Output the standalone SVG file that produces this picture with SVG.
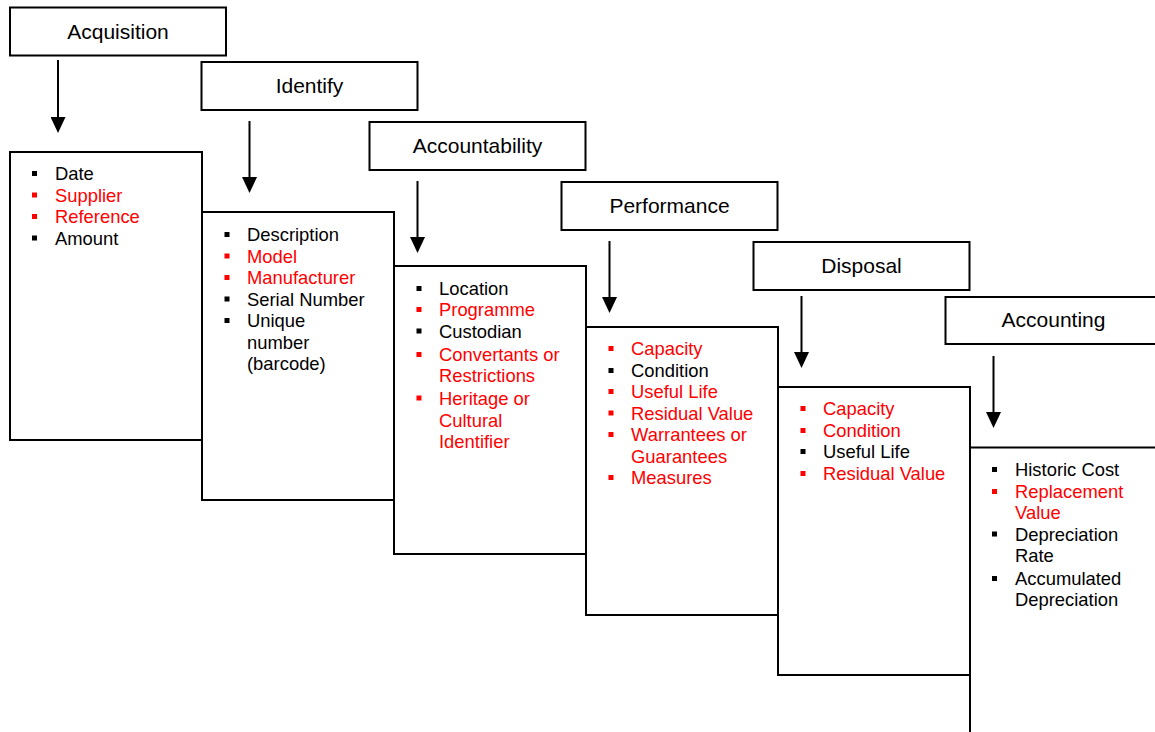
<svg xmlns="http://www.w3.org/2000/svg" width="1155" height="732" viewBox="0 0 1155 732">
<style>
.box{fill:#fff;stroke:#000;stroke-width:2}
.hd{font-family:"Liberation Sans",Arial,sans-serif;font-size:21px;fill:#000;text-anchor:middle}
.t{font-family:"Liberation Sans",Arial,sans-serif;font-size:18.4px;fill:#000}
.r{fill:#ff0000}
.b{fill:#000}
.br{fill:#ff0000}
.arr{stroke:#000;stroke-width:2;fill:none;marker-end:url(#ah)}
</style>
<defs>
<marker id="ah" markerUnits="userSpaceOnUse" markerWidth="16" markerHeight="15" refX="2" refY="7.5" orient="auto">
<path d="M0,0 L16,7.5 L0,15 z" fill="#000"/>
</marker>
</defs>
<rect width="1155" height="732" fill="#fff"/>

<g id="acquisition-header">
<rect class="box" x="10" y="7.5" width="216" height="48"/>
<text class="hd" x="118" y="38.5">Acquisition</text>
</g>
<g id="identify-header">
<rect class="box" x="201.5" y="62" width="216" height="48"/>
<text class="hd" x="309.5" y="92.5">Identify</text>
</g>
<g id="accountability-header">
<rect class="box" x="369.5" y="122" width="216" height="48"/>
<text class="hd" x="477.5" y="152.5">Accountability</text>
</g>
<g id="performance-header">
<rect class="box" x="561.5" y="182" width="216" height="48"/>
<text class="hd" x="669.5" y="212.5">Performance</text>
</g>
<g id="disposal-header">
<rect class="box" x="753.5" y="242" width="216" height="48"/>
<text class="hd" x="861.5" y="272.5">Disposal</text>
</g>
<g id="accounting-header">
<rect class="box" x="945.5" y="297" width="216" height="47"/>
<text class="hd" x="1053.5" y="327">Accounting</text>
</g>

<g id="connectors">
<line class="arr" x1="58" y1="60" x2="58" y2="119"/>
<line class="arr" x1="249.5" y1="121" x2="249.5" y2="179"/>
<line class="arr" x1="417.5" y1="181" x2="417.5" y2="239"/>
<line class="arr" x1="609.5" y1="241" x2="609.5" y2="299"/>
<line class="arr" x1="801.5" y1="296" x2="801.5" y2="354"/>
<line class="arr" x1="993.5" y1="356" x2="993.5" y2="414"/>
</g>

<g id="acquisition-details">
<rect class="box" x="10" y="152" width="192" height="288"/>
<rect class="b" x="32" y="171" width="5" height="5"/><text class="t" x="55" y="180">Date</text>
<rect class="br" x="32" y="192.5" width="5" height="5"/><text class="t r" x="55" y="201.5">Supplier</text>
<rect class="br" x="32" y="214" width="5" height="5"/><text class="t r" x="55" y="223">Reference</text>
<rect class="b" x="32" y="235.5" width="5" height="5"/><text class="t" x="55" y="244.5">Amount</text>
</g>

<g id="identify-details">
<rect class="box" x="202" y="212" width="192" height="288"/>
<rect class="b" x="224.5" y="232" width="5" height="5"/><text class="t" x="247" y="241">Description</text>
<rect class="br" x="224.5" y="253.5" width="5" height="5"/><text class="t r" x="247" y="262.5">Model</text>
<rect class="br" x="224.5" y="275" width="5" height="5"/><text class="t r" x="247" y="284">Manufacturer</text>
<rect class="b" x="224.5" y="296.5" width="5" height="5"/><text class="t" x="247" y="305.5">Serial Number</text>
<rect class="b" x="224.5" y="318" width="5" height="5"/><text class="t" x="247" y="327">Unique</text>
<text class="t" x="247" y="348.5">number</text>
<text class="t" x="247" y="370">(barcode)</text>
</g>

<g id="accountability-details">
<rect class="box" x="394" y="266" width="192" height="288"/>
<rect class="b" x="416.5" y="286" width="5" height="5"/><text class="t" x="439" y="295">Location</text>
<rect class="br" x="416.5" y="307" width="5" height="5"/><text class="t r" x="439" y="316">Programme</text>
<rect class="b" x="416.5" y="328.5" width="5" height="5"/><text class="t" x="439" y="337.5">Custodian</text>
<rect class="br" x="416.5" y="352" width="5" height="5"/><text class="t r" x="439" y="361">Convertants or</text>
<text class="t r" x="439" y="382">Restrictions</text>
<rect class="br" x="416.5" y="395.5" width="5" height="5"/><text class="t r" x="439" y="404.5">Heritage or</text>
<text class="t r" x="439" y="426.5">Cultural</text>
<text class="t r" x="439" y="448">Identifier</text>
</g>

<g id="performance-details">
<rect class="box" x="586" y="327" width="192" height="288"/>
<rect class="br" x="608.5" y="346" width="5" height="5"/><text class="t r" x="631" y="355">Capacity</text>
<rect class="b" x="608.5" y="368" width="5" height="5"/><text class="t" x="631" y="377">Condition</text>
<rect class="br" x="608.5" y="389" width="5" height="5"/><text class="t r" x="631" y="398">Useful Life</text>
<rect class="br" x="608.5" y="410.5" width="5" height="5"/><text class="t r" x="631" y="419.5">Residual Value</text>
<rect class="br" x="608.5" y="432" width="5" height="5"/><text class="t r" x="631" y="441">Warrantees or</text>
<text class="t r" x="631" y="462.5">Guarantees</text>
<rect class="br" x="608.5" y="475" width="5" height="5"/><text class="t r" x="631" y="484">Measures</text>
</g>

<g id="disposal-details">
<rect class="box" x="778" y="387" width="192" height="288"/>
<rect class="br" x="800.5" y="406" width="5" height="5"/><text class="t r" x="823" y="415">Capacity</text>
<rect class="br" x="800.5" y="428" width="5" height="5"/><text class="t r" x="823" y="437">Condition</text>
<rect class="b" x="800.5" y="449" width="5" height="5"/><text class="t" x="823" y="458">Useful Life</text>
<rect class="br" x="800.5" y="471" width="5" height="5"/><text class="t r" x="823" y="480">Residual Value</text>
</g>

<g id="accounting-details">
<rect class="box" x="970" y="447.5" width="200" height="300"/>
<rect class="b" x="992" y="467" width="5" height="5"/><text class="t" x="1015" y="476">Historic Cost</text>
<rect class="br" x="992" y="489" width="5" height="5"/><text class="t r" x="1015" y="498">Replacement</text>
<text class="t r" x="1015" y="519">Value</text>
<rect class="b" x="992" y="531.5" width="5" height="5"/><text class="t" x="1015" y="540.5">Depreciation</text>
<text class="t" x="1015" y="561.5">Rate</text>
<rect class="b" x="992" y="576" width="5" height="5"/><text class="t" x="1015" y="585">Accumulated</text>
<text class="t" x="1015" y="606">Depreciation</text>
</g>
</svg>
